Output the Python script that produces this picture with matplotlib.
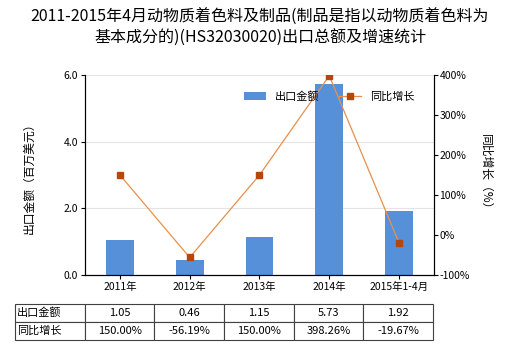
import matplotlib
matplotlib.use("Agg")
import matplotlib.pyplot as plt
from matplotlib.ticker import FuncFormatter

plt.rcParams['font.family'] = ['Noto Sans CJK SC', 'DejaVu Sans']

categories = ['2011年', '2012年', '2013年', '2014年', '2015年1-4月']
export_value = [1.05, 0.46, 1.15, 5.73, 1.92]
yoy_growth = [150.00, -56.19, 150.00, 398.26, -19.67]
value_labels = ['1.05', '0.46', '1.15', '5.73', '1.92']
growth_labels = ['150.00%', '-56.19%', '150.00%', '398.26%', '-19.67%']

bar_color = '#5590d8'
line_color = '#e8904c'
marker_color = '#b5470d'

fig = plt.figure(figsize=(5.2, 3.5), dpi=100)
ax = fig.add_axes([0.1635, 0.2143, 0.671, 0.5714])
x = list(range(len(categories)))

ax.bar(x, export_value, width=0.4, color=bar_color, label='出口金额', zorder=2)
ax.set_ylim(0, 6)
ax.set_xlim(-0.5, len(categories) - 0.5)
ax.set_yticks([0, 2, 4, 6])
ax.yaxis.set_major_formatter(FuncFormatter(lambda v, p: f"{v:.1f}"))
ax.set_xticks(x)
ax.set_xticklabels(categories)
ax.grid(axis='y', color='#e4e4e4', linewidth=0.8, zorder=0)
ax.set_axisbelow(True)
ax.spines['top'].set_visible(False)
ax.tick_params(labelsize=7.5, length=3, pad=2)
ax.set_ylabel('出口金额（百万美元）', fontsize=8.5, labelpad=20)

ax2 = ax.twinx()
ax2.plot(x, yoy_growth, color=line_color, linewidth=0.9, marker='s', markersize=5,
         markerfacecolor=marker_color, markeredgecolor=marker_color, label='同比增长', zorder=3)
ax2.set_ylim(-100, 400)
ax2.set_yticks([-100, 0, 100, 200, 300, 400])
ax2.yaxis.set_major_formatter(FuncFormatter(lambda v, p: f"{int(v)}%"))
ax2.spines['top'].set_visible(False)
ax2.tick_params(labelsize=7.5, length=3, pad=1)
ax2.set_ylabel('同比增长（%）', fontsize=8.5, rotation=-90, labelpad=16)

h1, l1 = ax.get_legend_handles_labels()
h2, l2 = ax2.get_legend_handles_labels()
ax2.legend(h1 + h2, l1 + l2, loc='upper center', bbox_to_anchor=(0.70, 0.97), ncol=2,
           frameon=False, fontsize=8, handlelength=2.0, columnspacing=1.8)

fig.suptitle('2011-2015年4月动物质着色料及制品(制品是指以动物质着色料为\n基本成分的)(HS32030020)出口总额及增速统计',
             fontsize=11.5, y=0.975, linespacing=1.3)

cell_text = [['出口金额'] + value_labels, ['同比增长'] + growth_labels]
tbl = ax.table(cellText=cell_text, cellLoc='center', bbox=[-0.2006, -0.325, 1.198, 0.18])
tbl.auto_set_font_size(False)
tbl.set_fontsize(8)
for (r, c), cell in tbl.get_celld().items():
    cell.set_edgecolor('#404040')
    cell.set_linewidth(0.8)
    if c == 0:
        cell._loc = 'left'
        cell.get_text().set_ha('left')
        cell.PAD = 0.03

fig.savefig('out.png', dpi=100)
